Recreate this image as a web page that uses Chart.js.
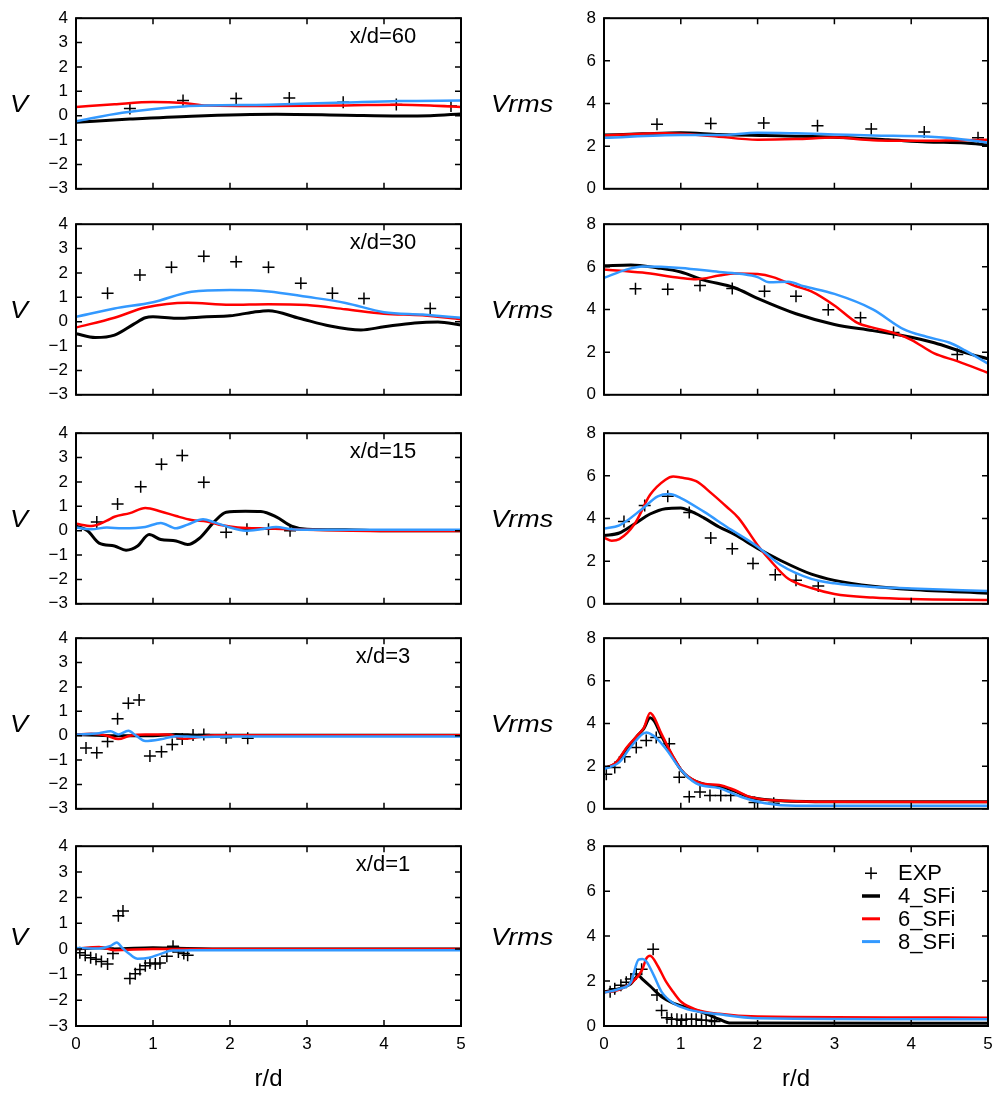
<!DOCTYPE html>
<html>
<head>
<meta charset="utf-8">
<script src="https://cdn.jsdelivr.net/npm/chart.js@4.4.0/dist/chart.umd.min.js"></script>
<style>
  body { margin: 0; background: #fff; }
  #wrap { position: relative; width: 993px; height: 1095px; overflow: hidden; }
  canvas { position: absolute; }
</style>
</head>
<body>
<div id="wrap"></div>
<script>
// ---- data (r/d, value) ----
const seriesNames = ['EXP', '4_SFi', '6_SFi', '8_SFi'];
const vTicks = [-3, 4, 1];      // min, max, step for V
const vrmsTicks = [0, 8, 2];    // min, max, step for Vrms

// x/d = 60
const v60ExpR = [0.70, 1.39, 2.08, 2.77, 3.47, 4.16, 4.87];
const v60Exp = [0.29, 0.62, 0.71, 0.73, 0.55, 0.46, 0.40];
const v60Sfi4 = [[0, -0.27], [0.7, -0.14], [1.5, -0.02], [2.6, 0.06], [3.5, 0.02], [4.2, -0.01], [4.6, 0.0], [5, 0.07]];
const v60Sfi6 = [[0, 0.36], [0.5, 0.47], [1.0, 0.56], [1.4, 0.52], [1.7, 0.42], [2.5, 0.40], [3.5, 0.42], [4.2, 0.45], [4.6, 0.42], [5, 0.36]];
const v60Sfi8 = [[0, -0.23], [0.6, 0.12], [1.4, 0.38], [2.5, 0.45], [3.5, 0.54], [4.2, 0.6], [5, 0.62]];

const rms60ExpR = [0.69, 1.39, 2.08, 2.78, 3.48, 4.17, 4.87];
const rms60Exp = [3.03, 3.06, 3.09, 2.96, 2.80, 2.66, 2.39];
const rms60Sfi4 = [[0, 2.52], [0.5, 2.58], [1.0, 2.63], [1.5, 2.55], [2.1, 2.5], [2.5, 2.47], [3.0, 2.42], [3.7, 2.3], [4.2, 2.2], [4.7, 2.15], [5, 2.06]];
const rms60Sfi6 = [[0, 2.5], [0.8, 2.6], [1.4, 2.48], [2.0, 2.3], [2.5, 2.33], [3.0, 2.4], [3.5, 2.28], [4.2, 2.25], [4.6, 2.28], [5, 2.3]];
const rms60Sfi8 = [[0, 2.39], [1.0, 2.52], [1.5, 2.52], [2.0, 2.63], [2.5, 2.6], [3.0, 2.55], [3.5, 2.5], [4.2, 2.45], [4.6, 2.35], [5, 2.16]];

// x/d = 30
const v30ExpR = [0.41, 0.83, 1.24, 1.66, 2.08, 2.50, 2.92, 3.33, 3.74, 4.60];
const v30Exp = [1.17, 1.92, 2.23, 2.68, 2.46, 2.23, 1.58, 1.17, 0.95, 0.54];
const v30Sfi4 = [[0, -0.49], [0.25, -0.65], [0.5, -0.55], [0.75, -0.1], [0.9, 0.16], [1.0, 0.2], [1.3, 0.14], [1.7, 0.2], [2.0, 0.24], [2.3, 0.39], [2.5, 0.45], [2.9, 0.14], [3.3, -0.18], [3.7, -0.34], [4.0, -0.21], [4.4, -0.05], [4.7, -0.01], [5, -0.14]];
const v30Sfi6 = [[0, -0.24], [0.5, 0.16], [0.9, 0.58], [1.45, 0.78], [2.0, 0.69], [2.5, 0.72], [3.0, 0.68], [3.5, 0.51], [4.0, 0.33], [4.5, 0.26], [5, 0.1]];
const v30Sfi8 = [[0, 0.2], [0.5, 0.54], [1.0, 0.8], [1.5, 1.23], [2.0, 1.3], [2.5, 1.24], [3.0, 1.02], [3.5, 0.77], [4.0, 0.39], [4.5, 0.29], [5, 0.16]];

const rms30ExpR = [0.41, 0.83, 1.25, 1.67, 2.09, 2.50, 2.92, 3.34, 3.77, 4.60];
const rms30Exp = [4.97, 4.95, 5.13, 4.99, 4.85, 4.62, 3.99, 3.61, 2.92, 1.89];
const rms30Sfi4 = [[0, 6.05], [0.35, 6.09], [0.7, 5.95], [1.0, 5.76], [1.3, 5.38], [1.7, 5.02], [2.0, 4.52], [2.5, 3.8], [3.0, 3.3], [3.5, 3.01], [4.0, 2.7], [4.3, 2.44], [4.7, 1.98], [5, 1.69]];
const rms30Sfi6 = [[0, 5.88], [0.5, 5.73], [1.0, 5.48], [1.2, 5.42], [1.5, 5.59], [1.7, 5.69], [2.0, 5.66], [2.2, 5.52], [2.5, 5.09], [2.7, 4.85], [3.0, 4.19], [3.3, 3.37], [3.5, 3.15], [3.8, 2.87], [4.0, 2.58], [4.3, 1.94], [4.6, 1.58], [5, 1.03]];
const rms30Sfi8 = [[0, 5.48], [0.3, 5.88], [0.5, 6.02], [1.0, 5.95], [1.5, 5.76], [1.8, 5.66], [2.0, 5.52], [2.15, 5.28], [2.4, 5.3], [2.6, 5.09], [3.0, 4.73], [3.5, 4.01], [3.9, 3.08], [4.2, 2.72], [4.5, 2.44], [4.7, 2.08], [5, 1.46]];

// x/d = 15
const v15ExpR = [0.27, 0.54, 0.84, 1.11, 1.38, 1.66, 1.95, 2.22, 2.50, 2.78];
const v15Exp = [0.36, 1.10, 1.80, 2.73, 3.08, 1.99, -0.06, 0.06, 0.06, 0.0];
const v15Sfi4 = [[0, 0.19], [0.15, 0.0], [0.3, -0.51], [0.5, -0.63], [0.65, -0.8], [0.8, -0.63], [0.95, -0.16], [1.1, -0.36], [1.3, -0.42], [1.45, -0.57], [1.6, -0.32], [1.8, 0.38], [1.95, 0.76], [2.2, 0.8], [2.4, 0.79], [2.6, 0.57], [2.8, 0.19], [3.0, 0.06], [3.5, 0.04], [4, 0], [5, 0]];
const v15Sfi6 = [[0, 0.28], [0.2, 0.19], [0.4, 0.41], [0.5, 0.57], [0.7, 0.72], [0.9, 0.93], [1.1, 0.79], [1.3, 0.6], [1.5, 0.44], [1.7, 0.38], [1.9, 0.22], [2.1, 0.13], [2.5, 0.09], [3, 0.04], [4, -0.01], [5, -0.01]];
const v15Sfi8 = [[0, 0.13], [0.2, 0.06], [0.4, 0.13], [0.6, 0.1], [0.9, 0.15], [1.1, 0.32], [1.3, 0.1], [1.45, 0.25], [1.65, 0.47], [1.8, 0.34], [2.0, 0.13], [2.2, 0.0], [2.4, 0.06], [2.6, 0.15], [2.8, 0.06], [3, 0.04], [5, 0.04]];

const rms15ExpR = [0.26, 0.53, 0.83, 1.11, 1.39, 1.67, 1.94, 2.23, 2.50, 2.79];
const rms15Exp = [3.86, 4.61, 5.04, 4.28, 3.08, 2.58, 1.89, 1.36, 1.10, 0.84];
const rms15Sfi4 = [[0, 3.2], [0.2, 3.32], [0.4, 3.75], [0.6, 4.21], [0.8, 4.46], [1.0, 4.49], [1.1, 4.39], [1.3, 4.03], [1.5, 3.6], [1.7, 3.25], [2.0, 2.6], [2.3, 2.03], [2.7, 1.39], [3.0, 1.1], [3.5, 0.82], [4.0, 0.67], [5, 0.5]];
const rms15Sfi6 = [[0, 3.1], [0.1, 2.96], [0.2, 3.03], [0.4, 3.75], [0.6, 5.11], [0.8, 5.82], [0.9, 5.97], [1.0, 5.92], [1.2, 5.75], [1.4, 5.18], [1.6, 4.54], [1.75, 4.03], [2.0, 2.75], [2.2, 1.89], [2.4, 1.17], [2.7, 0.74], [3.0, 0.46], [3.5, 0.29], [4.0, 0.22], [5, 0.18]];
const rms15Sfi8 = [[0, 3.53], [0.2, 3.68], [0.5, 4.46], [0.7, 5.04], [0.85, 5.15], [1.0, 4.96], [1.3, 4.32], [1.6, 3.6], [2.0, 2.68], [2.3, 1.82], [2.7, 1.17], [3.0, 0.96], [3.5, 0.79], [4.0, 0.72], [5, 0.6]];

// x/d = 3
const v3ExpR = [0.13, 0.27, 0.41, 0.54, 0.68, 0.82, 0.96, 1.11, 1.25, 1.38, 1.52, 1.66, 1.95, 2.23];
const v3Exp = [-0.51, -0.70, -0.24, 0.70, 1.33, 1.46, -0.83, -0.66, -0.36, -0.14, 0.03, 0.05, -0.08, -0.11];
const v3Sfi4 = [[0, 0.05], [0.5, 0.0], [1.0, 0.0], [1.3, 0.05], [1.6, 0.02], [5, 0.02]];
const v3Sfi6 = [[0, 0.05], [0.2, 0.08], [0.4, 0.0], [0.55, -0.14], [0.7, 0.0], [0.9, 0.05], [1.2, 0.05], [1.4, -0.13], [1.6, -0.05], [1.8, 0.02], [5, 0.02]];
const v3Sfi8 = [[0, 0.05], [0.3, 0.1], [0.45, 0.18], [0.55, 0.05], [0.68, 0.2], [0.78, 0.0], [0.9, -0.22], [1.1, -0.15], [1.3, -0.02], [1.6, -0.05], [2, -0.03], [5, -0.03]];

const rms3ExpR = [0.03, 0.14, 0.27, 0.42, 0.55, 0.68, 0.85, 0.98, 1.11, 1.25, 1.38, 1.52, 1.65, 1.96, 2.21];
const rms3Exp = [1.62, 1.94, 2.44, 2.87, 3.2, 3.34, 3.05, 1.48, 0.57, 0.79, 0.62, 0.62, 0.62, 0.29, 0.26];
const rms3Sfi4 = [[0, 1.9], [0.15, 2.12], [0.3, 2.84], [0.45, 3.48], [0.52, 3.77], [0.6, 4.27], [0.65, 4.13], [0.75, 3.41], [0.9, 2.41], [1.0, 1.84], [1.1, 1.48], [1.3, 1.15], [1.5, 1.05], [1.7, 0.83], [1.9, 0.54], [2.2, 0.4], [3, 0.33], [5, 0.33]];
const rms3Sfi6 = [[0, 1.9], [0.15, 2.15], [0.3, 2.9], [0.45, 3.5], [0.52, 3.8], [0.6, 4.49], [0.65, 4.3], [0.75, 3.5], [0.9, 2.45], [1.0, 1.86], [1.1, 1.5], [1.3, 1.17], [1.5, 1.12], [1.7, 0.88], [1.9, 0.56], [2.2, 0.4], [3, 0.33], [5, 0.32]];
const rms3Sfi8 = [[0, 1.86], [0.2, 2.19], [0.35, 2.91], [0.55, 3.58], [0.65, 3.41], [0.8, 2.84], [1.0, 1.84], [1.2, 1.19], [1.5, 0.97], [1.8, 0.54], [2.1, 0.26], [2.5, 0.14], [5, 0.14]];

// x/d = 1
const v1ExpR = [0.05, 0.12, 0.19, 0.26, 0.33, 0.41, 0.48, 0.55, 0.61, 0.70, 0.77, 0.83, 0.90, 0.96, 1.03, 1.09, 1.18, 1.26, 1.33, 1.40, 1.45];
const v1Exp = [-0.15, -0.25, -0.34, -0.40, -0.49, -0.59, -0.18, 1.29, 1.48, -1.15, -0.97, -0.80, -0.65, -0.55, -0.59, -0.55, -0.28, 0.10, -0.12, -0.18, -0.25];
const v1Sfi4 = [[0, 0.0], [0.3, 0.05], [0.5, 0.0], [1.0, 0.05], [1.3, 0.03], [2, 0.0], [5, 0.0]];
const v1Sfi6 = [[0, 0.0], [0.3, 0.08], [0.5, -0.05], [1.0, 0.0], [2, 0.0], [5, 0.0]];
const v1Sfi8 = [[0, 0.04], [0.3, 0.02], [0.45, 0.12], [0.53, 0.25], [0.6, 0.04], [0.7, -0.21], [0.8, -0.38], [0.95, -0.34], [1.1, -0.19], [1.25, -0.06], [1.4, -0.06], [1.6, -0.05], [5, -0.05]];

const rms1ExpR = [0.08, 0.14, 0.22, 0.29, 0.35, 0.42, 0.49, 0.64, 0.69, 0.75, 0.82, 0.88, 0.95, 1.01, 1.07, 1.14, 1.20, 1.27, 1.33, 1.40, 1.44];
const rms1Exp = [1.52, 1.66, 1.81, 1.95, 2.09, 2.31, 2.52, 3.41, 1.38, 0.69, 0.37, 0.3, 0.3, 0.26, 0.3, 0.3, 0.3, 0.26, 0.26, 0.23, 0.2];
const rms1Sfi4 = [[0, 1.52], [0.2, 1.66], [0.35, 1.88], [0.45, 2.24], [0.5, 2.09], [0.6, 1.78], [0.75, 1.3], [0.9, 1.02], [1.1, 0.8], [1.3, 0.59], [1.5, 0.3], [1.65, 0.13], [2, 0.13], [5, 0.12]];
const rms1Sfi6 = [[0, 1.5], [0.2, 1.62], [0.4, 2.05], [0.5, 2.52], [0.55, 3.0], [0.6, 3.13], [0.7, 2.67], [0.8, 2.02], [0.9, 1.52], [1.0, 1.09], [1.2, 0.73], [1.5, 0.54], [2, 0.42], [5, 0.37]];
const rms1Sfi8 = [[0, 1.48], [0.2, 1.65], [0.35, 1.95], [0.45, 2.95], [0.5, 2.98], [0.55, 2.88], [0.65, 2.24], [0.75, 1.52], [0.9, 1.02], [1.1, 0.73], [1.5, 0.52], [2, 0.35], [5, 0.3]];

// ---- layout ----
const FONT = '"Liberation Sans", Arial, Helvetica, sans-serif';
const rowTops = [13, 219, 428, 633, 841];
const lineColors = ['#000000', '#ff0000', '#3399ff'];
const lineWidths = [3, 2.5, 2.5];

Chart.defaults.font.family = FONT;
Chart.defaults.color = '#000';

const panels = [
    { col: 0, row: 0, tag: 'x/d=60', exp: [v60ExpR, v60Exp], lines: [v60Sfi4, v60Sfi6, v60Sfi8] },
    { col: 1, row: 0, exp: [rms60ExpR, rms60Exp], lines: [rms60Sfi4, rms60Sfi6, rms60Sfi8] },
    { col: 0, row: 1, tag: 'x/d=30', exp: [v30ExpR, v30Exp], lines: [v30Sfi4, v30Sfi6, v30Sfi8] },
    { col: 1, row: 1, exp: [rms30ExpR, rms30Exp], lines: [rms30Sfi4, rms30Sfi6, rms30Sfi8] },
    { col: 0, row: 2, tag: 'x/d=15', exp: [v15ExpR, v15Exp], lines: [v15Sfi4, v15Sfi6, v15Sfi8] },
    { col: 1, row: 2, exp: [rms15ExpR, rms15Exp], lines: [rms15Sfi4, rms15Sfi6, rms15Sfi8] },
    { col: 0, row: 3, tag: 'x/d=3', exp: [v3ExpR, v3Exp], lines: [v3Sfi4, v3Sfi6, v3Sfi8] },
    { col: 1, row: 3, exp: [rms3ExpR, rms3Exp], lines: [rms3Sfi4, rms3Sfi6, rms3Sfi8] },
    { col: 0, row: 4, tag: 'x/d=1', exp: [v1ExpR, v1Exp], lines: [v1Sfi4, v1Sfi6, v1Sfi8] },
    { col: 1, row: 4, legend: true, exp: [rms1ExpR, rms1Exp], lines: [rms1Sfi4, rms1Sfi6, rms1Sfi8] }
];

// frame, inward mirrored ticks, horizontal y label, station tag and legend
const panelDeco = {
    id: 'panelDeco',
    afterDatasetsDraw(chart, args, opts) {
        const { ctx, chartArea: a } = chart;
        const { x, y } = chart.scales;
        ctx.save();
        ctx.strokeStyle = '#000';
        ctx.lineWidth = 1.5;
        ctx.beginPath();
        x.ticks.forEach(t => {
            const px = x.getPixelForValue(t.value);
            ctx.moveTo(px, a.bottom); ctx.lineTo(px, a.bottom - 6);
            ctx.moveTo(px, a.top); ctx.lineTo(px, a.top + 6);
        });
        y.ticks.forEach(t => {
            const py = y.getPixelForValue(t.value);
            ctx.moveTo(a.left, py); ctx.lineTo(a.left + 6, py);
            ctx.moveTo(a.right, py); ctx.lineTo(a.right - 6, py);
        });
        ctx.stroke();
        ctx.lineWidth = 2;
        ctx.strokeRect(a.left, a.top, a.right - a.left, a.bottom - a.top);

        ctx.fillStyle = '#000';
        ctx.textAlign = 'center';
        ctx.textBaseline = 'middle';
        ctx.font = 'italic 24px ' + FONT;
        // the reference lettering is a little wider than the font
        ctx.save();
        ctx.translate(opts.ylabX, (a.top + a.bottom) / 2 + 2);
        ctx.scale(1.12, 1);
        ctx.fillText(opts.ylab, 0, 0);
        ctx.restore();

        if (opts.tag) {
            ctx.font = '22px ' + FONT;
            ctx.fillText(opts.tag, a.left + 307, a.top + 19);
        }

        if (opts.legend) {
            ctx.font = '22px ' + FONT;
            ctx.textAlign = 'left';
            chart.data.datasets.forEach((ds, i) => {
                const ly = a.top + 27 + i * 22.8;
                const lx = a.right - 126;
                ctx.strokeStyle = ds.borderColor;
                ctx.lineWidth = ds.showLine ? ds.borderWidth + 0.5 : 1.5;
                ctx.beginPath();
                if (ds.showLine) {
                    ctx.moveTo(lx, ly); ctx.lineTo(lx + 18, ly);
                } else {
                    ctx.moveTo(lx + 3, ly); ctx.lineTo(lx + 15, ly);
                    ctx.moveTo(lx + 9, ly - 6); ctx.lineTo(lx + 9, ly + 6);
                }
                ctx.stroke();
                ctx.fillText(ds.label, a.right - 90, ly + 1);
            });
        }
        ctx.restore();
    }
};

const wrap = document.getElementById('wrap');

panels.forEach(p => {
    const bottom = p.row === 4;
    const isV = p.col === 0;
    const w = isV ? 490 : 520;          // right canvases run past the page edge (clipped)
    const h = bottom ? 267 : 207;
    const targetRight = isV ? 461 : 498; // plot right edge, canvas coordinates
    const canvas = document.createElement('canvas');
    canvas.width = w;
    canvas.height = h;
    canvas.style.left = (isV ? 0 : 490) + 'px';
    canvas.style.top = (rowTops[p.row] - 13) + 'px';
    wrap.appendChild(canvas);

    const yr = isV ? vTicks : vrmsTicks;
    const datasets = [{
        label: seriesNames[0],
        data: p.exp[0].map((r, i) => ({ x: r, y: p.exp[1][i] })),
        showLine: false,
        pointStyle: 'cross',
        pointRadius: 6,
        borderWidth: 1.5,
        borderColor: '#000',
        order: 4
    }];
    p.lines.forEach((pts, k) => {
        datasets.push({
            label: seriesNames[k + 1],
            data: pts.map(q => ({ x: q[0], y: q[1] })),
            showLine: true,
            pointRadius: 0,
            borderColor: lineColors[k],
            borderWidth: lineWidths[k],
            cubicInterpolationMode: 'monotone',
            order: 3 - k
        });
    });

    const chart = new Chart(canvas, {
        type: 'scatter',
        data: { datasets: datasets },
        options: {
            responsive: false,
            animation: false,
            devicePixelRatio: 1,
            layout: { padding: { top: 13, right: w - targetRight, bottom: 0, left: 0 } },
            plugins: {
                legend: { display: false },
                tooltip: { enabled: false },
                panelDeco: {
                    ylab: isV ? 'V' : 'Vrms',
                    ylabX: isV ? 19 : 32,
                    tag: p.tag,
                    legend: !!p.legend
                }
            },
            scales: {
                x: {
                    type: 'linear',
                    min: 0,
                    max: 5,
                    grid: { display: false, drawTicks: false },
                    border: { display: false },
                    ticks: { display: bottom, stepSize: 1, padding: 8, font: { size: 17 } },
                    title: { display: bottom, text: 'r/d', font: { size: 24 }, padding: { top: 0, bottom: 1 } },
                    afterFit: s => { s.height = bottom ? 69 : 9; }
                },
                y: {
                    min: yr[0],
                    max: yr[1],
                    grid: { display: false, drawTicks: false },
                    border: { display: false },
                    ticks: {
                        stepSize: yr[2],
                        padding: 8,
                        font: { size: 17 },
                        callback: v => String(v).replace('-', '\u2212')
                    },
                    afterFit: s => { s.width = isV ? 76 : 114; }
                }
            }
        },
        plugins: [panelDeco]
    });

    // nudge the padding so the plot box lands where the reference has it
    const a = chart.chartArea;
    const dr = a.right - targetRight;
    const dt = 13 - a.top;
    if (Math.abs(dr) > 0.5 || Math.abs(dt) > 0.5) {
        chart.options.layout.padding = { top: 13 + dt, right: w - targetRight + dr, bottom: 0, left: 0 };
        chart.update();
    }
});
</script>
</body>
</html>
